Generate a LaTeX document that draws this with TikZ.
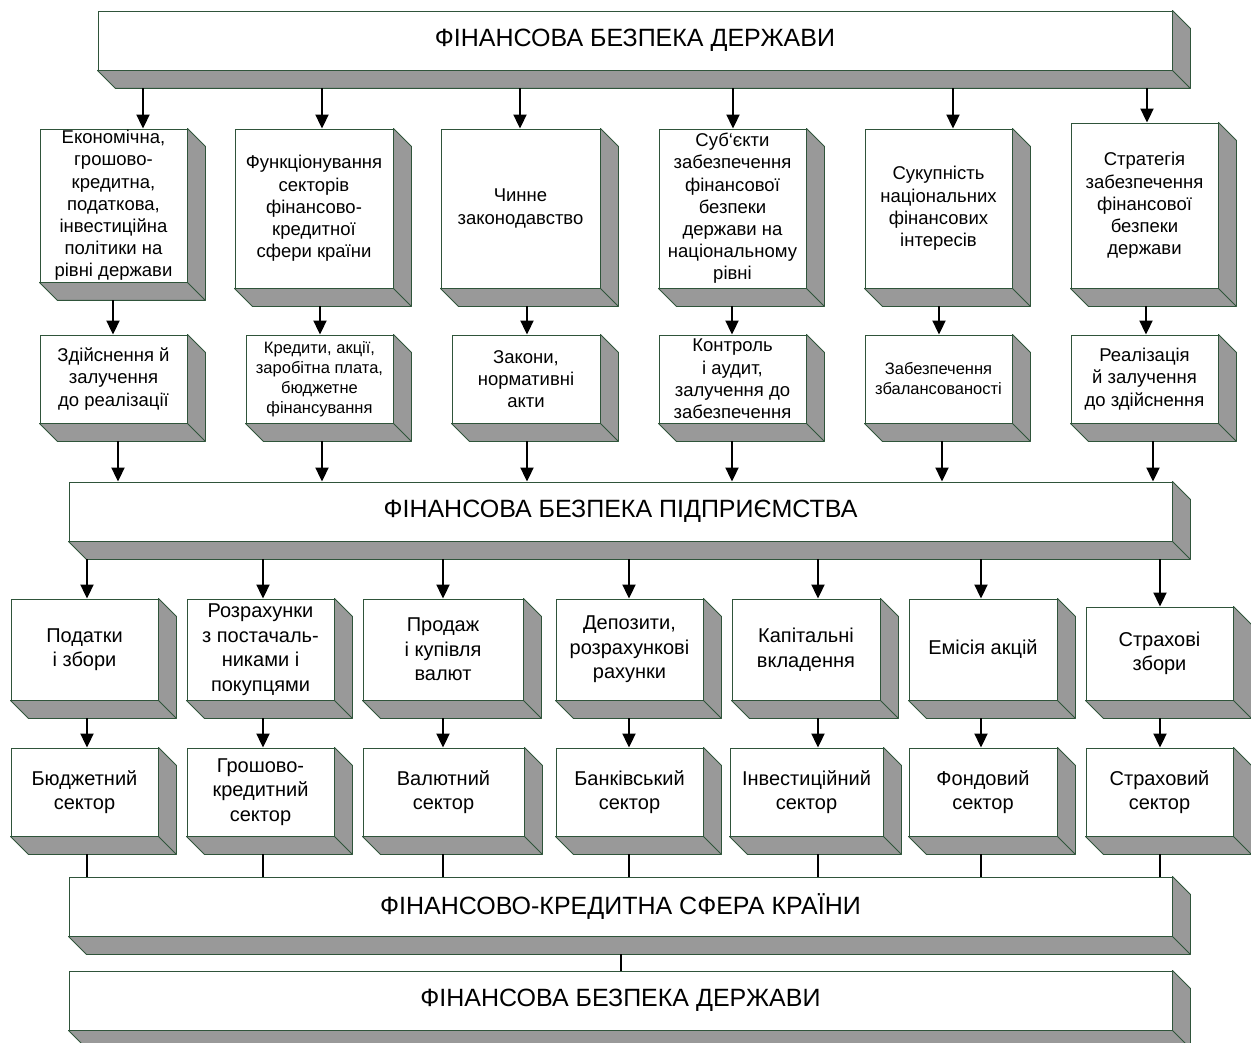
\documentclass[tikz,border=0pt]{standalone}
\usepackage{fontspec}
\setmainfont{Liberation Sans}
\usepackage{tikz}
\usetikzlibrary{arrows.meta}

\definecolor{edge}{RGB}{47,84,58}
\definecolor{side}{RGB}{153,153,153}
\def\dd{18pt}

\tikzset{
  cube/.style={draw=edge, fill=white, line width=0.9pt, align=center, inner sep=0pt,
    append after command={\pgfextra{
      \filldraw[fill=side, draw=edge, line width=0.9pt, line join=round]
        (\tikzlastnode.north east) -- ++(\dd,-\dd)
        -- ([shift={(\dd,-\dd)}]\tikzlastnode.south east)
        -- ([shift={(\dd,-\dd)}]\tikzlastnode.south west)
        -- (\tikzlastnode.south west) -- (\tikzlastnode.south east) -- cycle
        (\tikzlastnode.south east) -- ++(\dd,-\dd);
    }}},
  sz/.style 2 args={minimum width=#1pt, minimum height=#2pt},
  banner/.style={cube, sz={1103}{59}, font=\fontsize{25}{29}\selectfont},
  upper/.style={cube, font=\fontsize{18.5}{22.2}\selectfont},
  small/.style={cube, font=\fontsize{16.5}{20}\selectfont},
  lower/.style={cube, font=\fontsize{20}{24.5}\selectfont},
  arr/.style={line width=2pt, -{Triangle[width=13pt,length=14pt]}},
  link/.style={line width=2pt},
}

\begin{document}
\begin{tikzpicture}[x=1pt, y=-1pt]
    \useasboundingbox (0,0) rectangle (1251,1043);

    % 1. Смуги
    \node[banner, sz={1074}{59}] (top) at (635,40.5) {ФІНАНСОВА БЕЗПЕКА ДЕРЖАВИ};
    \node[banner] (ent) at (620.5,511.5) {ФІНАНСОВА БЕЗПЕКА ПІДПРИЄМСТВА};
    \node[banner] (fin) at (620.5,906.5) {ФІНАНСОВО-КРЕДИТНА СФЕРА КРАЇНИ};
    \node[banner] (st) at (620.5,1000.5) {ФІНАНСОВА БЕЗПЕКА ДЕРЖАВИ};

    % 2. Рівень держави
    \node[upper, sz={147}{153}] (a1) at (113.5,205.5) {Економічна,\\грошово-\\кредитна,\\податкова,\\інвестиційна\\політики на\\рівні держави};
    \node[upper, sz={158}{159}] (a2) at (314,208.5) {Функціонування\\секторів\\фінансово-\\кредитної\\сфери країни};
    \node[upper, sz={159}{159}] (a3) at (520.5,208.5) {Чинне\\законодавство};
    \node[upper, sz={147}{159}] (a4) at (732.5,208.5) {Суб`єкти\\забезпечення\\фінансової\\безпеки\\держави на\\національному\\рівні};
    \node[upper, sz={147}{159}] (a5) at (938.5,208.5) {Сукупність\\національних\\фінансових\\інтересів};
    \node[upper, sz={147}{165}] (a6) at (1144.5,205.5) {Стратегія\\забезпечення\\фінансової\\безпеки\\держави};

    \node[upper, sz={147}{88}] (b1) at (113.5,379) {Здійснення й\\залучення\\до реалізації};
    \node[small, sz={147}{88}] (b2) at (319.5,379) {Кредити, акції,\\заробітна плата,\\бюджетне\\фінансування};
    \node[upper, sz={148}{88}] (b3) at (526,379) {Закони,\\нормативні\\акти};
    \node[upper, sz={147}{88}] (b4) at (732.5,379) {Контроль\\і аудит,\\залучення до\\забезпечення};
    \node[small, sz={147}{88}] (b5) at (938.5,379) {Забезпечення\\збалансованості};
    \node[upper, sz={147}{88}] (b6) at (1144.5,379) {Реалізація\\й залучення\\до здійснення};

    % 3. Рівень підприємства
    \node[lower, sz={147}{101}] (c1) at (84.5,649.5) {Податки\\і збори};
    \node[lower, sz={147}{101}] (c2) at (260.5,649.5) {Розрахунки\\з постачаль-\\никами і\\покупцями};
    \node[lower, sz={160}{101}] (c3) at (443,649.5) {Продаж\\і купівля\\валют};
    \node[lower, sz={147}{101}] (c4) at (629.5,649.5) {Депозити,\\розрахункові\\рахунки};
    \node[lower, sz={148}{101}] (c5) at (806,649.5) {Капітальні\\вкладення};
    \node[lower, sz={148}{101}] (c6) at (983,649.5) {Емісія акцій};
    \node[lower, sz={147}{93}] (c7) at (1159.5,653.5) {Страхові\\збори};

    \node[lower, sz={147}{88}] (d1) at (84.5,792) {Бюджетний\\сектор};
    \node[lower, sz={147}{88}] (d2) at (260.5,792) {Грошово-\\кредитний\\сектор};
    \node[lower, sz={161}{88}] (d3) at (443.5,792) {Валютний\\сектор};
    \node[lower, sz={147}{88}] (d4) at (629.5,792) {Банківський\\сектор};
    \node[lower, sz={153}{88}] (d5) at (806.5,792) {Інвестиційний\\сектор};
    \node[lower, sz={148}{88}] (d6) at (983,792) {Фондовий\\сектор};
    \node[lower, sz={147}{88}] (d7) at (1159.5,792) {Страховий\\сектор};

    % 4. Зв'язки
    \foreach \n/\x in {1/143,2/322,3/520,4/733,5/953,6/1147}
        \draw[arr] ([yshift=-\dd]top.south -| \x,0) -- (\x,0 |- a\n.north);
    \foreach \n/\x in {1/113,2/320,3/527,4/732,5/939,6/1146}
        \draw[arr] ([yshift=-\dd]a\n.south -| \x,0) -- (\x,0 |- b\n.north);
    \foreach \n/\x in {1/118,2/322,3/527,4/732,5/942,6/1153}
        \draw[arr] ([yshift=-\dd]b\n.south -| \x,0) -- (\x,0 |- ent.north);
    \foreach \n/\x in {1/87,2/263,3/443,4/629,5/818,6/981,7/1160} {
        \draw[arr] ([yshift=-\dd]ent.south -| \x,0) -- (\x,0 |- c\n.north);
        \draw[arr] ([yshift=-\dd]c\n.south -| \x,0) -- (\x,0 |- d\n.north);
        \draw[link] ([yshift=-\dd]d\n.south -| \x,0) -- (\x,0 |- fin.north);
    }
    \draw[link] ([yshift=-\dd]fin.south -| 621,0) -- (621,0 |- st.north);
\end{tikzpicture}
\end{document}
